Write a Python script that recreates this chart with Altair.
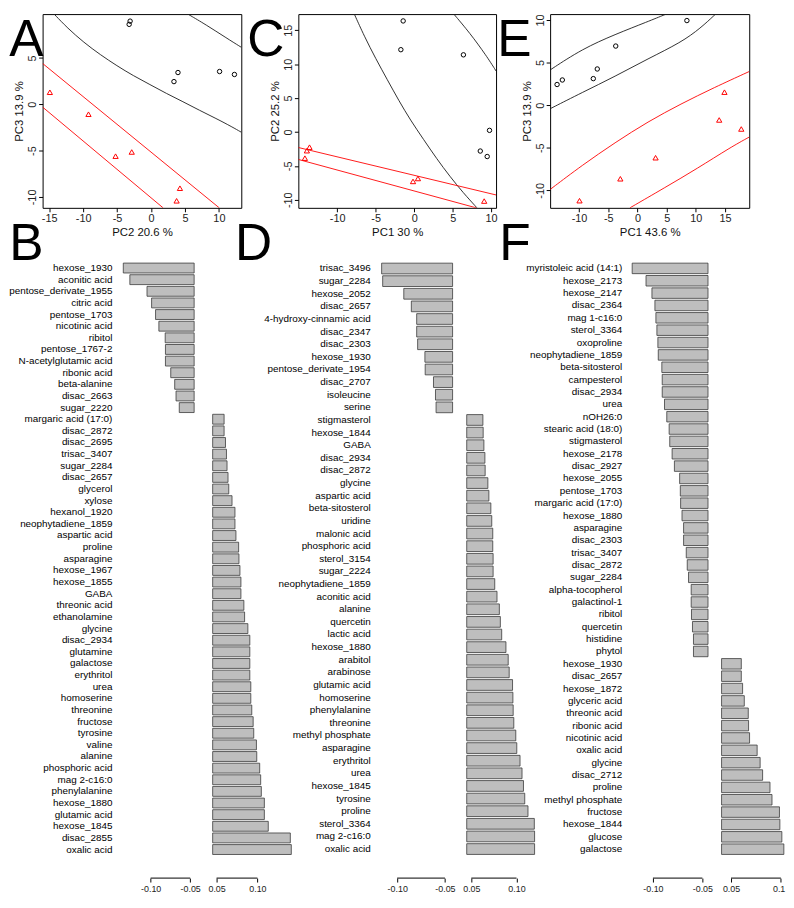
import altair as alt
import numpy as np
import pandas as pd

FONT = "Liberation Sans"

# ---------------- Panel A : PC2 (x) vs PC3 (y) ----------------
A_black_x = [-3.08, -3.22, 3.38, 3.97, 10.10, 12.29]
A_black_y = [8.98, 8.63, 2.45, 3.43, 3.54, 3.22]
A_red_x = [-14.90, -9.21, -5.22, -2.84, 4.26, 3.77]
A_red_y = [1.30, -1.07, -5.60, -5.15, -9.06, -10.42]
A_arc_black_in_x = [-14.27, -12.32, -9.89, -7.46, -5.03, -2.60, -0.17, 2.27, 4.70, 7.13, 9.56, 11.99, 13.31]
A_arc_black_in_y = [9.74, 8.24, 6.67, 5.35, 4.16, 3.08, 2.14, 1.16, 0.29, -0.65, -1.52, -2.46, -3.02]
A_arc_black_out_x = [5.43, 8.10, 11.02, 13.31]
A_arc_black_out_y = [9.74, 8.59, 7.20, 6.15]
A_arc_red_up_x = [-15.97, 10.05]
A_arc_red_up_y = [4.41, -11.18]
A_arc_red_lo_x = [-15.97, 1.78]
A_arc_red_lo_y = [-0.30, -11.18]

# ---------------- Panel C : PC1 (x) vs PC2 (y) ----------------
C_black_x = [-1.43, -1.73, 6.40, 9.79, 8.59, 9.49]
C_black_y = [16.38, 12.14, 11.38, 0.24, -2.81, -3.62]
C_red_x = [-13.60, -13.94, -14.20, -0.15, 0.49, 9.10]
C_red_y = [-2.24, -2.76, -3.86, -7.29, -6.86, -10.19]
C_arc_black_l_x = [-7.77, -6.49, -4.99, -3.49, -1.99, -0.49, 1.22, 2.93, 4.65, 6.36, 8.16]
C_arc_black_l_y = [17.38, 14.14, 10.81, 7.71, 4.62, 1.76, -1.10, -3.95, -6.57, -8.95, -11.19]
C_arc_black_r_x = [5.16, 7.22, 9.36, 10.64]
C_arc_black_r_y = [17.38, 14.62, 11.29, 9.00]
C_arc_red_up_x = [-15.05, 10.64]
C_arc_red_up_y = [-2.29, -9.29]
C_arc_red_lo_x = [-15.05, 8.07]
C_arc_red_lo_y = [-4.05, -11.19]

# ---------------- Panel E : PC1 (x) vs PC3 (y) ----------------
E_black_x = [-13.76, -12.86, -7.56, -6.88, -3.72, 8.46]
E_black_y = [2.42, 2.95, 3.11, 4.24, 6.93, 9.92]
E_red_x = [14.89, 13.99, 17.77, 3.10, -2.93, -9.92]
E_red_y = [1.52, -1.74, -2.80, -6.17, -8.64, -11.21]
E_arc_black_up_x = [-14.94, -9.47, -3.83, 1.81, 4.91]
E_arc_black_up_y = [4.13, 6.59, 8.30, 9.81, 10.68]
E_arc_black_lo_x = [-14.94, -9.47, -3.83, 1.81, 7.45, 10.83, 13.37]
E_arc_black_lo_y = [-0.42, 1.48, 3.37, 5.45, 7.35, 9.05, 10.68]
E_arc_red_up_x = [-14.94, -9.47, -3.83, 1.81, 7.45, 13.09, 19.12]
E_arc_red_up_y = [-9.89, -7.05, -4.39, -1.93, 0.15, 2.05, 3.94]
E_arc_red_lo_x = [-1.29, 4.63, 10.27, 15.91, 19.12]
E_arc_red_lo_y = [-12.05, -9.70, -7.42, -4.96, -3.75]

# ---------------- Panel B : loadings PC2 ----------------
B_labels = [
    "hexose_1930", "aconitic acid", "pentose_derivate_1955", "citric acid", "pentose_1703",
    "nicotinic acid", "ribitol", "pentose_1767-2", "N-acetylglutamic acid", "ribonic acid",
    "beta-alanine", "disac_2663", "sugar_2220",
    "margaric acid (17:0)", "disac_2872", "disac_2695", "trisac_3407", "sugar_2284",
    "disac_2657", "glycerol", "xylose", "hexanol_1920", "neophytadiene_1859", "aspartic acid",
    "proline", "asparagine", "hexose_1967", "hexose_1855", "GABA", "threonic acid",
    "ethanolamine", "glycine", "disac_2934", "glutamine", "galactose", "erythritol", "urea",
    "homoserine", "threonine", "fructose", "tyrosine", "valine", "alanine", "phosphoric acid",
    "mag 2-c16:0", "phenylalanine", "hexose_1880", "glutamic acid", "hexose_1845",
    "disac_2855", "oxalic acid",
]
B_values = [
    -0.1346, -0.1263, -0.1046, -0.0988, -0.0938, -0.0896, -0.0816, -0.0813, -0.0813,
    -0.0746, -0.0696, -0.0679, -0.0638,
    0.0592, 0.0592, 0.0609, 0.0621, 0.0628, 0.0640, 0.0649, 0.0689, 0.0725, 0.0725,
    0.0737, 0.0770, 0.0774, 0.0786, 0.0798, 0.0798, 0.0834, 0.0843, 0.0883, 0.0907,
    0.0907, 0.0907, 0.0907, 0.0919, 0.0919, 0.0931, 0.0948, 0.0955, 0.0988, 0.0992,
    0.1028, 0.1040, 0.1048, 0.1085, 0.1085, 0.1133, 0.1403, 0.1415,
]

# ---------------- Panel D : loadings PC1 ----------------
D_labels = [
    "trisac_3496", "sugar_2284", "hexose_2052", "disac_2657", "4-hydroxy-cinnamic acid",
    "disac_2347", "disac_2303", "hexose_1930", "pentose_derivate_1954", "disac_2707",
    "isoleucine", "serine",
    "stigmasterol", "hexose_1844", "GABA", "disac_2934", "disac_2872", "glycine",
    "aspartic acid", "beta-sitosterol", "uridine", "malonic acid", "phosphoric acid",
    "sterol_3154", "sugar_2224", "neophytadiene_1859", "aconitic acid", "alanine",
    "quercetin", "lactic acid", "hexose_1880", "arabitol", "arabinose", "glutamic acid",
    "homoserine", "phenylalanine", "threonine", "methyl phosphate", "asparagine",
    "erythritol", "urea", "hexose_1845", "tyrosine", "proline", "sterol_3364",
    "mag 2-c16:0", "oxalic acid",
]
D_values = [
    -0.1163, -0.1152, -0.0931, -0.0852, -0.0796, -0.0796, -0.0786, -0.0710, -0.0707,
    -0.0620, -0.0599, -0.0593,
    0.0628, 0.0631, 0.0639, 0.0650, 0.0653, 0.0683, 0.0694, 0.0716, 0.0726, 0.0737,
    0.0737, 0.0741, 0.0741, 0.0759, 0.0784, 0.0810, 0.0821, 0.0836, 0.0883, 0.0908,
    0.0919, 0.0956, 0.0960, 0.0963, 0.0970, 0.0992, 0.1003, 0.1039, 0.1061, 0.1077,
    0.1091, 0.1127, 0.1197, 0.1200, 0.1200,
]

# ---------------- Panel F : loadings PC1 ----------------
F_labels = [
    "myristoleic acid (14:1)", "hexose_2173", "hexose_2147", "disac_2364", "mag 1-c16:0",
    "sterol_3364", "oxoproline", "neophytadiene_1859", "beta-sitosterol", "campesterol",
    "disac_2934", "urea", "nOH26:0", "stearic acid (18:0)", "stigmasterol", "hexose_2178",
    "disac_2927", "hexose_2055", "pentose_1703", "margaric acid (17:0)", "hexose_1880",
    "asparagine", "disac_2303", "trisac_3407", "disac_2872", "sugar_2284",
    "alpha-tocopherol", "galactinol-1", "ribitol", "quercetin", "histidine", "phytol",
    "hexose_1930", "disac_2657", "hexose_1872", "glyceric acid", "threonic acid",
    "ribonic acid", "nicotinic acid", "oxalic acid", "glycine", "disac_2712", "proline",
    "methyl phosphate", "fructose", "hexose_1844", "glucose", "galactose",
]
F_values = [
    -0.1210, -0.1070, -0.1010, -0.0980, -0.0970, -0.0960, -0.0950, -0.0946, -0.0910,
    -0.0906, -0.0906, -0.0883, -0.0860, -0.0836, -0.0830, -0.0806, -0.0783, -0.0730,
    -0.0723, -0.0720, -0.0706, -0.0690, -0.0690, -0.0663, -0.0653, -0.0640, -0.0613,
    -0.0613, -0.0610, -0.0600, -0.0590, -0.0590,
    0.0603, 0.0603, 0.0616, 0.0633, 0.0673, 0.0676, 0.0686, 0.0762, 0.0792, 0.0817,
    0.0891, 0.0911, 0.0986, 0.0990, 0.1010, 0.1030,
]

BLACK_LINE = "#1a1a1a"
RED = "#ff0000"
SC_H = 196
BAR_H = 600
LETTER_BASE = 42


def fmt_expr(spec):
    return ("datum.value < 0 ? '-' + format(-datum.value, '%s') : format(datum.value, '%s')"
            % (spec, spec))


def scatter_panel(bx, by, rx, ry, arcs, xdom, ydom, xticks, yticks, xtitle, ytitle,
                  width, letter, letter_x):
    black = pd.DataFrame({"x": bx, "y": by})
    red = pd.DataFrame({"x": rx, "y": ry})
    rows = []
    for name, col, xs, ys in arcs:
        for i, (xv, yv) in enumerate(zip(xs, ys)):
            rows.append({"x": xv, "y": yv, "arc": name, "col": col, "o": i})
    arcdf = pd.DataFrame(rows)
    xenc = alt.X(
        "x:Q",
        scale=alt.Scale(domain=xdom, nice=False, zero=False),
        axis=alt.Axis(values=xticks, title=xtitle, labelExpr=fmt_expr("d"), tickSize=4,
                      labelPadding=1, titlePadding=3, labelFontSize=11, titleFontSize=11.5,
                      labelFlush=False, labelOverlap=False),
    )
    yenc = alt.Y(
        "y:Q",
        scale=alt.Scale(domain=ydom, nice=False, zero=False),
        axis=alt.Axis(values=yticks, title=ytitle, labelExpr=fmt_expr("d"), tickSize=4,
                      labelAngle=270, labelAlign="center", labelBaseline="bottom",
                      labelPadding=1, titlePadding=2, labelFontSize=11, titleFontSize=11.5,
                      labelFlush=False, labelOverlap=False),
    )
    lines = alt.Chart(arcdf).mark_line(clip=True, strokeWidth=0.9, interpolate="basis").encode(
        x=xenc, y=yenc, color=alt.Color("col:N", scale=None), detail="arc:N", order="o:Q"
    )
    circ = alt.Chart(black).mark_point(
        shape="circle", filled=False, color="black", size=20, strokeWidth=1, opacity=1
    ).encode(x=xenc, y=yenc)
    tri = alt.Chart(red).mark_point(
        shape="triangle-up", filled=False, color=RED, size=28, strokeWidth=1, opacity=1
    ).encode(x=xenc, y=yenc)
    let = alt.Chart(pd.DataFrame({"t": [letter]})).mark_text(
        align="left", baseline="alphabetic", fontSize=52, font=FONT, color="black"
    ).encode(x=alt.value(letter_x), y=alt.value(LETTER_BASE), text="t:N")
    return alt.layer(lines, circ, tri, let).properties(width=width, height=SC_H)


def bar_panel(labels, values, L, W, T1, kn, T3, kp, bn, bp, label_x, letter, letter_x,
              letter_y, label_expr):
    df = pd.DataFrame({"label": labels, "v": values})
    df["base"] = np.where(df["v"] < 0, bn, bp)
    lo = -0.10 - (T1 - L) / kn
    hi = 0.05 + (L + W - T3) / kp
    rng = [0, T1 - L + (bn + 0.10) * kn, T3 - L + (bp - 0.05) * kp, W]
    xsc = alt.Scale(domain=[lo, bn, bp, hi], range=rng, nice=False, zero=False)
    ysc = alt.Scale(domain=labels, paddingInner=0.15, paddingOuter=0.075)
    xax = alt.Axis(values=[-0.10, -0.05, 0.05, 0.10], title=None, labelExpr=label_expr,
                   offset=23, tickSize=4, labelPadding=3, labelFontSize=9, labelFlush=5,
                   labelFlushOffset=4, labelOverlap=False)
    bars = alt.Chart(df).mark_bar(fill="#bebebe", stroke="#3a3a3a", strokeWidth=0.8).encode(
        x=alt.X("v:Q", scale=xsc, axis=xax), x2="base:Q",
        y=alt.Y("label:N", scale=ysc, axis=None),
    )
    text = alt.Chart(df).mark_text(
        align="right", baseline="middle", fontSize=10, font=FONT, color="black"
    ).encode(x=alt.value(label_x), y=alt.Y("label:N", scale=ysc, axis=None), text="label:N")
    seg = pd.DataFrame({"a": [-0.10, 0.05], "b": [-0.05, 0.10]})
    rule = alt.Chart(seg).mark_rule(color="black", strokeWidth=1).encode(
        x=alt.X("a:Q", scale=xsc, axis=xax), x2="b:Q", y=alt.value(BAR_H + 23)
    )
    let = alt.Chart(pd.DataFrame({"t": [letter]})).mark_text(
        align="left", baseline="alphabetic", fontSize=52, font=FONT, color="black"
    ).encode(x=alt.value(letter_x), y=alt.value(letter_y), text="t:N")
    return alt.layer(bars, rule, text, let).properties(
        width=W, height=BAR_H, view=alt.ViewBackground(stroke="transparent")
    )


A = scatter_panel(
    A_black_x, A_black_y, A_red_x, A_red_y,
    [("bi", BLACK_LINE, A_arc_black_in_x, A_arc_black_in_y),
     ("bo", BLACK_LINE, A_arc_black_out_x, A_arc_black_out_y),
     ("ru", RED, A_arc_red_up_x, A_arc_red_up_y),
     ("rl", RED, A_arc_red_lo_x, A_arc_red_lo_y)],
    [-15.97, 13.3], [-11.18, 9.74], [-15, -10, -5, 0, 5, 10], [-10, -5, 0, 5],
    "PC2 20.6 %", "PC3 13.9 %", 201, "A", -33.7,
)
C = scatter_panel(
    C_black_x, C_black_y, C_red_x, C_red_y,
    [("bl", BLACK_LINE, C_arc_black_l_x, C_arc_black_l_y),
     ("br", BLACK_LINE, C_arc_black_r_x, C_arc_black_r_y),
     ("ru", RED, C_arc_red_up_x, C_arc_red_up_y),
     ("rl", RED, C_arc_red_lo_x, C_arc_red_lo_y)],
    [-15.05, 10.64], [-11.19, 17.39], [-10, -5, 0, 5, 10], [-10, -5, 0, 5, 10, 15],
    "PC1 30 %", "PC2 25.2 %", 200, "C", -51.8,
)
E = scatter_panel(
    E_black_x, E_black_y, E_red_x, E_red_y,
    [("bu", BLACK_LINE, E_arc_black_up_x, E_arc_black_up_y),
     ("bl", BLACK_LINE, E_arc_black_lo_x, E_arc_black_lo_y),
     ("ru", RED, E_arc_red_up_x, E_arc_red_up_y),
     ("rl", RED, E_arc_red_lo_x, E_arc_red_lo_y)],
    [-14.95, 19.13], [-12.05, 10.68], [-15, -10, -5, 0, 5, 10, 15], [-10, -5, 0, 5, 10],
    "PC1 43.6 %", "PC3 13.9 %", 201.4, "E", -53.4,
)

B = bar_panel(B_labels, B_values, 41.7, 251.6, 151.0, 800.0, 217.7, 826.0, -0.045, 0.0452,
              70.6, "B", -33.7, -2, fmt_expr(".2f"))
D = bar_panel(D_labels, D_values, 300.0, 247.6, 400.0, 966.0, 475.0, 914.0, -0.042, 0.0449,
              73.3, "D", -64.1, -2, fmt_expr(".2f"))
F = bar_panel(F_labels, F_values, 554.3, 236.4, 658.3, 1000.0, 737.3, 1008.0, -0.0443, 0.0405,
              73.0, "F", -51.4, -2,
              "datum.value > 0.09 ? '0.1' : " + fmt_expr(".2f"))

chart = alt.concat(
    A, C, E, B, D, F,
    columns=3,
    spacing={"row": 55, "column": 6.7},
    bounds="flush",
    align="each",
).properties(padding=0).configure(font=FONT).configure_view(
    stroke="black", strokeWidth=1
).configure_axis(
    grid=False, domain=False, tickColor="black", tickWidth=1, labelColor="#222222",
    titleColor="#111111", titleFontWeight="normal",
)

chart.save("out.html", embed_options={"renderer": "svg", "actions": False})
